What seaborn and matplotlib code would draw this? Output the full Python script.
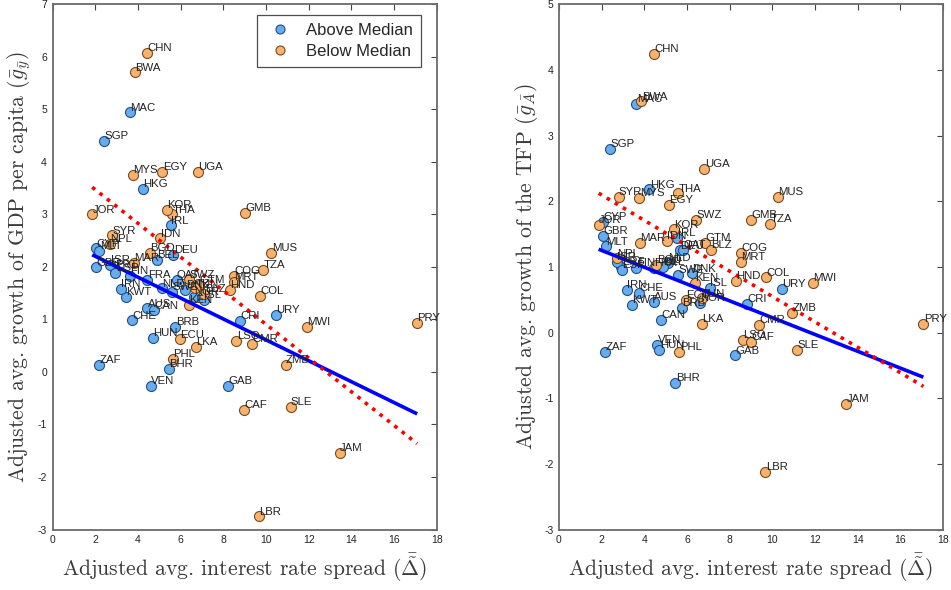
import matplotlib
matplotlib.use("Agg")
import matplotlib.pyplot as plt
from matplotlib.lines import Line2D
import numpy as np
import pandas as pd
import seaborn as sns

# Country codes and cross-country averages
countries = ["CHN", "BWA", "MAC", "SGP", "MYS", "EGY", "UGA", "HKG", "JOR", "SYR",
             "THA", "KOR", "IRL", "IDN", "GMB", "MUS", "TZA", "COG", "MRT", "HND",
             "COL", "URY", "MWI", "PRY", "CRI", "LSO", "CMR", "ZMB", "GAB", "CAF",
             "SLE", "JAM", "LBR", "ZAF", "VEN", "HUN", "PHL", "BHR", "ECU", "LKA",
             "CHE", "AUS", "CAN", "KWT", "IRN", "BRB", "CYP", "MLT", "GBR", "NPL",
             "MAR", "BGD", "PRT", "ISR", "ESP", "FIN", "FRA", "NLD", "BEL", "DEU",
             "QAT", "SWZ", "GTM", "BLZ", "KEN", "DNK", "SWE", "ISL", "NOR", "TUN"]

spread = [4.43, 3.86, 3.62, 2.41, 3.77, 5.15, 6.82, 4.23, 1.86, 2.79,
          5.59, 5.37, 5.55, 5.05, 9.02, 10.25, 9.88, 8.51, 8.51, 8.30,
          9.71, 10.45, 11.90, 17.08, 8.79, 8.61, 9.36, 10.92, 8.23, 8.98,
          11.15, 13.46, 9.67, 2.17, 4.60, 4.71, 5.64, 5.45, 5.96, 6.70,
          3.73, 4.43, 4.77, 3.43, 3.19, 5.76, 2.05, 2.20, 2.04, 2.70,
          3.80, 4.57, 2.92, 2.70, 2.94, 3.62, 4.44, 5.11, 4.88, 5.66,
          5.81, 6.41, 6.85, 7.11, 6.38, 6.22, 5.59, 7.08, 6.61, 6.69]

gdp_growth = [6.08, 5.70, 4.94, 4.39, 3.75, 3.80, 3.80, 3.49, 3.00, 2.60,
              3.00, 3.08, 2.79, 2.54, 3.02, 2.27, 1.94, 1.82, 1.71, 1.56,
              1.44, 1.08, 0.86, 0.93, 0.97, 0.59, 0.53, 0.13, -0.27, -0.72,
              -0.67, -1.54, -2.75, 0.13, -0.27, 0.64, 0.24, 0.05, 0.62, 0.48,
              0.98, 1.21, 1.17, 1.43, 1.58, 0.86, 2.35, 2.30, 1.99, 2.43,
              2.08, 2.26, 1.94, 2.03, 1.88, 1.82, 1.75, 1.59, 2.13, 2.22,
              1.75, 1.76, 1.65, 1.49, 1.27, 1.56, 1.52, 1.37, 1.43, 1.59]

tfp_growth = [4.24, 3.52, 3.48, 2.80, 2.05, 1.94, 2.49, 2.18, 1.64, 2.07,
              2.12, 1.57, 1.44, 1.40, 1.72, 2.06, 1.65, 1.21, 1.07, 0.79,
              0.84, 0.66, 0.75, 0.13, 0.44, -0.11, 0.12, 0.30, -0.35, -0.14,
              -0.26, -1.09, -2.12, -0.30, -0.19, -0.27, -0.30, -0.77, 0.50, 0.13,
              0.60, 0.47, 0.19, 0.42, 0.65, 0.37, 1.69, 1.31, 1.47, 1.13,
              1.36, 1.03, 1.00, 1.08, 0.95, 0.98, 0.98, 1.06, 1.00, 1.25,
              1.26, 1.72, 1.37, 1.26, 0.75, 0.90, 0.88, 0.68, 0.45, 0.52]

group = ["Below Median", "Below Median", "Above Median", "Above Median", "Below Median",
         "Below Median", "Below Median", "Above Median", "Below Median", "Below Median",
         "Below Median", "Below Median", "Above Median", "Below Median", "Below Median",
         "Below Median", "Below Median", "Below Median", "Below Median", "Below Median",
         "Below Median", "Above Median", "Below Median", "Below Median", "Above Median",
         "Below Median", "Below Median", "Below Median", "Above Median", "Below Median",
         "Below Median", "Below Median", "Below Median", "Above Median", "Above Median",
         "Above Median", "Below Median", "Above Median", "Below Median", "Below Median",
         "Above Median", "Above Median", "Above Median", "Above Median", "Above Median",
         "Above Median", "Above Median", "Above Median", "Above Median", "Below Median",
         "Below Median", "Below Median", "Above Median", "Above Median", "Above Median",
         "Above Median", "Above Median", "Above Median", "Above Median", "Above Median",
         "Above Median", "Below Median", "Below Median", "Below Median", "Below Median",
         "Above Median", "Above Median", "Above Median", "Above Median", "Below Median"]

# Fitted lines: (intercept, slope)
gdp_fit_solid = (2.600, -0.199)
gdp_fit_dotted = (4.112, -0.3207)
tfp_fit_solid = (1.506, -0.128)
tfp_fit_dotted = (2.481, -0.1933)

df = pd.DataFrame({"country": countries, "spread": spread, "gdp": gdp_growth,
                   "tfp": tfp_growth, "group": group})

groups = ["Above Median", "Below Median"]
face = {"Above Median": "#67acef", "Below Median": "#f7b26f"}
edge = {"Above Median": "#1f4f86", "Below Median": "#7a4a1c"}

sns.set_style("white")
plt.rcParams["mathtext.fontset"] = "cm"
plt.rcParams["axes.unicode_minus"] = False

fig = plt.figure(figsize=(9.51, 5.90), dpi=100)
ax1 = fig.add_axes([52.5 / 951, 60.5 / 590, 384.3 / 951, 525.3 / 590])
ax2 = fig.add_axes([559 / 951, 60.5 / 590, 384.0 / 951, 525.3 / 590])

label_font = dict(family="cmr10", size=15.6, color="#3a3a3a")
tick_font = ["Liberation Sans", "DejaVu Sans"]


def draw_panel(ax, ycol, fit_solid, fit_dotted, ylim, yticks, ylabel):
    for g in groups:
        sub = df[df["group"] == g]
        sns.scatterplot(data=sub, x="spread", y=ycol, ax=ax, s=52,
                        color=face[g], edgecolor=edge[g], linewidth=0.8,
                        legend=False, zorder=3)
    xs = np.array([df["spread"].min(), df["spread"].max()])
    ax.plot(xs, fit_solid[0] + fit_solid[1] * xs, color="#0000ff", lw=2.6,
            solid_capstyle="butt", zorder=4)
    ax.plot(xs, fit_dotted[0] + fit_dotted[1] * xs, color="#ff0000", lw=2.6,
            linestyle=(0, (1, 1.6)), zorder=4)
    for _, r in df.iterrows():
        ax.annotate(r["country"], (r["spread"], r[ycol]), xytext=(0.3, 1.3),
                    textcoords="offset points", ha="left", va="baseline",
                    fontsize=8.2, family=tick_font, color="#222222", zorder=5)
    ax.set_xlim(0, 18)
    ax.set_ylim(*ylim)
    ax.set_xticks(range(0, 19, 2))
    ax.set_yticks(yticks)
    ax.tick_params(direction="in", length=4.5, width=0.8, top=True, right=True,
                   labelsize=7.5, colors="#444444", pad=4)
    for lab in ax.get_xticklabels() + ax.get_yticklabels():
        lab.set_family(tick_font)
        lab.set_color("#222222")
    for sp in ax.spines.values():
        sp.set_color("#6b6b6b")
        sp.set_linewidth(1.3)
    ax.set_xlabel(r"Adjusted avg. interest rate spread ($\bar{\tilde{\Delta}}$)",
                  fontdict=label_font, labelpad=4)
    ax.set_ylabel(ylabel, fontdict=label_font, labelpad=3)


draw_panel(ax1, "gdp", gdp_fit_solid, gdp_fit_dotted, (-3, 7), range(-3, 8),
           r"Adjusted avg. growth of GDP per capita ($\bar{g}_{\bar{y}}$)")
draw_panel(ax2, "tfp", tfp_fit_solid, tfp_fit_dotted, (-3, 5), range(-3, 6),
           r"Adjusted avg. growth of the TFP ($\bar{g}_{\bar{A}}$)")

handles = [Line2D([0], [0], marker="o", linestyle="none", markersize=6.5,
                  markerfacecolor=face[g], markeredgecolor=edge[g],
                  markeredgewidth=0.8, label=g) for g in groups]
leg = ax1.legend(handles=handles, loc="upper right", bbox_to_anchor=(0.958, 0.979),
                 frameon=True, fancybox=False, borderpad=0.45,
                 handletextpad=0.7, labelspacing=0.38, borderaxespad=0.0,
                 handlelength=1.8, prop={"family": tick_font, "size": 12})
leg.get_frame().set_edgecolor("#222222")
leg.get_frame().set_linewidth(0.9)

fig.savefig("out.png", dpi=100)
